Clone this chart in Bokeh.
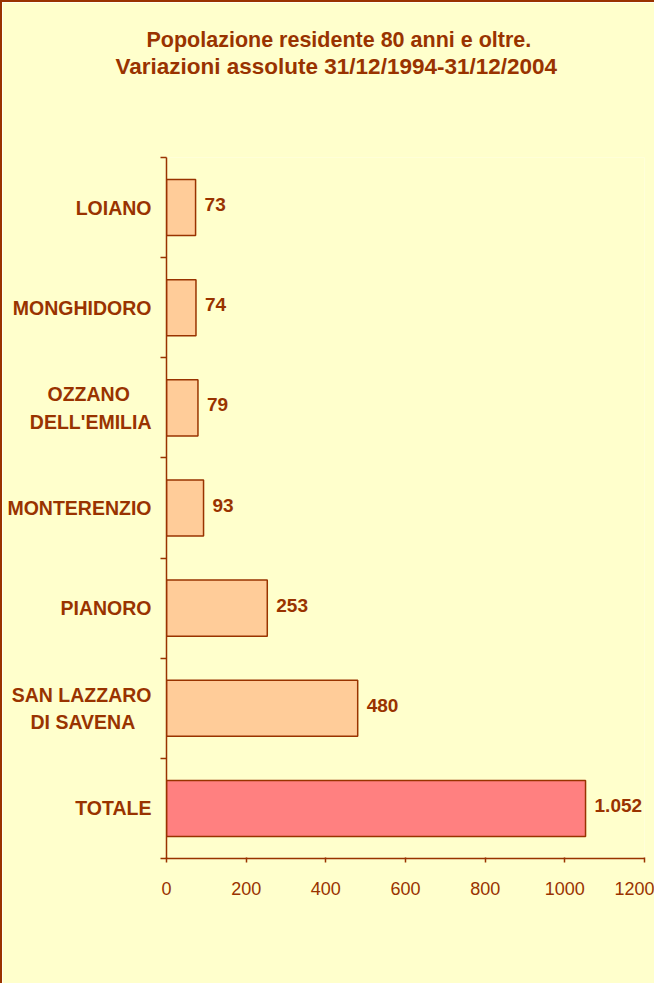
from bokeh.plotting import figure
from bokeh.models import Range1d, FixedTicker, ColumnDataSource, Title, LabelSet, LinearAxis
from bokeh.core.properties import value
from bokeh.embed import file_html
from bokeh.resources import INLINE

# ---- data (bottom to top) ----
NB = "\u00a0"
categories = ["TOTALE", "SAN LAZZARO\nDI SAVENA" + NB * 3, "PIANORO", "MONTERENZIO",
              "OZZANO" + NB * 4 + "\nDELL'EMILIA", "MONGHIDORO", "LOIANO"]
values = [1052, 480, 253, 93, 79, 74, 73]
value_labels = ["1.052", "480", "253", "93", "79", "74", "73"]
bar_colors = ["#FF8080", "#FFCC99", "#FFCC99", "#FFCC99", "#FFCC99", "#FFCC99", "#FFCC99"]
x_ticks = [0, 200, 400, 600, 800, 1000, 1200]
title_line1 = "Popolazione residente 80 anni e oltre."
title_line2 = "Variazioni assolute 31/12/1994-31/12/2004"

BROWN = "#993300"
BG = "#FFFFCC"
FONT = "Liberation Sans"

pos = list(range(len(categories)))
src = ColumnDataSource(dict(y=pos, value=values, label=value_labels, color=bar_colors))

p = figure(width=654, height=983,
           x_range=Range1d(0, 1200), y_range=Range1d(-0.5, len(categories) - 0.5),
           output_backend="svg", toolbar_location=None,
           min_border_left=164, min_border_right=12, min_border_top=155, min_border_bottom=127)
p.styles = {"border-left": "2px solid " + BROWN, "border-top": "2px solid " + BROWN}

p.background_fill_color = BG
p.border_fill_color = BG
p.outline_line_color = None
p.xgrid.visible = False
p.ygrid.visible = False

p.hbar(y="y", left=0, right="value", height=0.56, fill_color="color",
       line_color=BROWN, line_width=1.5, source=src)

labels = LabelSet(x="value", y="y", text="label", source=src, x_offset=9, y_offset=3,
                  text_baseline="middle", text_align="left", text_font_size="19px",
                  text_font_style="bold", text_color=BROWN, text_font=value(FONT))
p.add_layout(labels)

# x axis
xa = p.xaxis[0]
xa.ticker = FixedTicker(ticks=x_ticks)
xa.axis_line_color = BROWN
xa.axis_line_width = 1.5
xa.major_tick_line_color = BROWN
xa.major_tick_line_width = 1.5
xa.major_tick_in = 1
xa.major_tick_out = 4
xa.minor_tick_line_color = None
xa.major_label_text_font = FONT
xa.major_label_text_font_size = "18px"
xa.major_label_text_color = BROWN
xa.major_label_standoff = 19

# y axis
ya = p.yaxis[0]
ya.ticker = FixedTicker(ticks=pos, minor_ticks=[i - 0.5 for i in range(len(categories) + 1)])
ya.major_label_overrides = {i: c for i, c in zip(pos, categories)}
ya.axis_line_color = BROWN
ya.axis_line_width = 1.5
ya.major_tick_in = 0
ya.major_tick_out = 0
ya.major_tick_line_color = None
ya.minor_tick_in = 0
ya.minor_tick_out = 6
ya.minor_tick_line_color = BROWN
ya.minor_tick_line_width = 1.5
ya.major_label_text_font = FONT
ya.major_label_text_font_size = "19.5px"
ya.major_label_text_font_style = "bold"
ya.major_label_text_color = BROWN
ya.major_label_text_line_height = 1.25
ya.major_label_standoff = 9

# invisible spacer between the plot frame and the two title lines
spacer = LinearAxis(ticker=FixedTicker(ticks=[600]), major_label_overrides={600: ""},
                    axis_line_color=None, major_tick_line_color=None,
                    minor_tick_line_color=None, major_tick_in=0, major_tick_out=79,
                    minor_tick_out=0, major_label_standoff=0)
p.add_layout(spacer, "above")

t2 = Title(text=title_line2, align="left", text_font=FONT,
           text_font_size="22.5px", text_font_style="bold", text_color=BROWN,
           standoff=0, offset=-51)
t1 = Title(text=title_line1, align="left", text_font=FONT,
           text_font_size="21.5px", text_font_style="bold", text_color=BROWN,
           standoff=0, offset=-20)
p.add_layout(t2, "above")
p.add_layout(t1, "above")

open("out.html", "w").write(file_html(p, INLINE))
